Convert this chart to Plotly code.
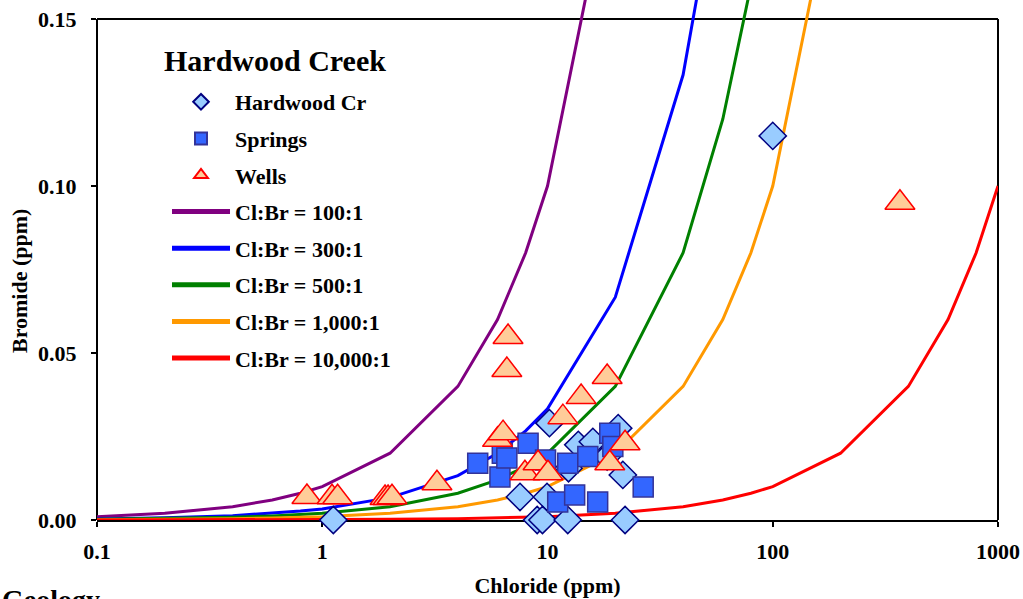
import plotly.graph_objects as go

# ---------------- data ----------------
# Hardwood Creek samples (Cl ppm, Br ppm)
hc_cl = [100, 1.12, 10.2, 13.7, 15.9, 20.6, 21.6, 7.55, 9.95, 12.4, 18.4, 9.0, 9.5, 12.3, 22.1]
hc_br = [0.115, 0.0, 0.029, 0.0225, 0.0234, 0.0275, 0.0135, 0.0069, 0.0069, 0.0155, 0.019, 0.0, 0.0, 0.0, 0.0]

# Springs
sp_cl = [4.9, 6.15, 6.3, 6.6, 8.2, 9.8, 12.3, 15.1, 18.9, 19.5, 11.1, 13.2, 16.7, 26.6]
sp_br = [0.017, 0.0129, 0.020, 0.0186, 0.023, 0.018, 0.017, 0.019, 0.026, 0.022, 0.0054, 0.0075, 0.0054, 0.0099]

# Wells
wl_cl = [0.855, 1.105, 1.17, 1.9, 1.96, 2.04, 3.23, 6.0, 6.35, 6.68, 6.6, 7.94, 9.08, 10.05, 11.7, 14.1, 18.4, 18.9, 22.1, 367]
wl_br = [0.0069, 0.0068, 0.0068, 0.0066, 0.0066, 0.0068, 0.011, 0.024, 0.026, 0.0548, 0.0449, 0.014, 0.017, 0.014, 0.0308, 0.0368, 0.0428, 0.017, 0.023, 0.095]

# Cl:Br reference lines
cl_grid = [0.1, 0.2, 0.4, 0.6, 0.8, 1, 2, 4, 6, 8, 10, 20, 40, 60, 80, 100, 200, 400, 600, 800, 1000]
br_100 = [0.001, 0.002, 0.004, 0.006, 0.008, 0.01, 0.02, 0.04, 0.06, 0.08, 0.1, 0.2]
br_300 = [0.00033, 0.00067, 0.0013, 0.002, 0.0027, 0.0033, 0.0067, 0.0133, 0.02, 0.0267, 0.0333, 0.0667, 0.1333, 0.2]
br_500 = [0.0002, 0.0004, 0.0008, 0.0012, 0.0016, 0.002, 0.004, 0.008, 0.012, 0.016, 0.02, 0.04, 0.08, 0.12, 0.16]
br_1000 = [0.0001, 0.0002, 0.0004, 0.0006, 0.0008, 0.001, 0.002, 0.004, 0.006, 0.008, 0.01, 0.02, 0.04, 0.06, 0.08, 0.1, 0.2]
br_10000 = [0.00001, 0.00002, 0.00004, 0.00006, 0.00008, 0.0001, 0.0002, 0.0004, 0.0006, 0.0008, 0.001,
            0.002, 0.004, 0.006, 0.008, 0.01, 0.02, 0.04, 0.06, 0.08, 0.1]

line_names = ["Cl:Br = 100:1", "Cl:Br = 300:1", "Cl:Br = 500:1", "Cl:Br = 1,000:1", "Cl:Br = 10,000:1"]
line_vals = [br_100, br_300, br_500, br_1000, br_10000]
line_colors = ["#800080", "#0000FF", "#008000", "#FF9900", "#FF0000"]

x_ticks = [0.1, 1, 10, 100, 1000]
x_ticktext = ["0.1", "1", "10", "100", "1000"]
y_ticks = [0.0, 0.05, 0.10, 0.15]
y_ticktext = ["0.00", "0.05", "0.10", "0.15"]

# ---------------- figure ----------------
FONT = "Liberation Serif"
fig = go.Figure()

for i, (nm, vals, col) in enumerate(zip(line_names, line_vals, line_colors)):
    fig.add_trace(go.Scatter(
        x=cl_grid[:len(vals)], y=vals, mode="lines", name=nm,
        line=dict(color=col, width=3), legendrank=4 + i, legendgroup=nm))

fig.add_trace(go.Scatter(
    x=hc_cl, y=hc_br, mode="markers", name="Hardwood Cr", cliponaxis=False,
    marker=dict(symbol="diamond", size=21, color="#99CCFF", line=dict(color="#000080", width=1.5)),
    legendrank=1, legendgroup="hc"))
fig.add_trace(go.Scatter(
    x=sp_cl, y=sp_br, mode="markers", name="Springs", cliponaxis=False,
    marker=dict(symbol="square", size=20, color="#3366FF", line=dict(color="#333399", width=1.5)),
    legendrank=2, legendgroup="sp"))
fig.add_trace(go.Scatter(
    x=wl_cl, y=wl_br, mode="markers", name="Wells", cliponaxis=False,
    marker=dict(symbol="triangle-up", size=26, color="#FFCC99", line=dict(color="#FF0000", width=1.5)),
    legendrank=3, legendgroup="wl"))

YTOP = 0.15 * 520 / 501

# frame lines (top, right, left) at the 0.15 level
frame = dict(color="black", width=2)
fig.add_shape(type="line", xref="paper", yref="y", x0=0, x1=1, y0=0.15, y1=0.15, line=frame, layer="below")
fig.add_shape(type="line", xref="paper", yref="y", x0=1, x1=1, y0=0, y1=0.15, line=frame, layer="below")
fig.add_shape(type="line", xref="paper", yref="y", x0=0, x1=0, y0=0, y1=0.15, line=frame, layer="below")

# legend heading
fig.add_annotation(text="Hardwood Creek", xref="paper", yref="paper",
                   x=(162 - 97) / 901, y=1 - 60 / 520, xanchor="left", yanchor="middle", showarrow=False,
                   font=dict(family=FONT, size=30, color="black", weight="bold"))

# y axis title
fig.add_annotation(text="Bromide (ppm)", xref="paper", yref="paper", textangle=-90,
                   x=(19 - 97) / 901, y=1 - 281 / 520, xanchor="center", yanchor="middle", showarrow=False,
                   font=dict(family=FONT, size=22, color="black", weight="bold"))

fig.add_annotation(text="Geology", xref="paper", yref="paper", x=-97 / 901, y=-(582 - 520) / 520,
                   xanchor="left", yanchor="top", showarrow=False,
                   font=dict(family=FONT, size=28, color="black", weight="bold"))

fig.update_layout(
    width=1023, height=599,
    margin=dict(l=97, r=25, t=0, b=79),
    paper_bgcolor="white", plot_bgcolor="white",
    font=dict(family=FONT, color="black", weight="bold"),
    showlegend=True,
    legend=dict(
        x=(167 - 97) / 901, y=1 - 81 / 520, xanchor="left", yanchor="top",
        bgcolor="rgba(0,0,0,0)", borderwidth=0,
        font=dict(family=FONT, size=22, color="black", weight="bold"),
        itemsizing="constant", itemwidth=58, tracegroupgap=5,
    ),
    xaxis=dict(
        type="log", range=[-1, 3], tickvals=x_ticks, ticktext=x_ticktext,
        showgrid=False, zeroline=False, showline=True, linecolor="black", linewidth=2,
        ticks="outside", ticklen=5, tickwidth=1.5, tickcolor="black", layer="below traces",
        tickfont=dict(family=FONT, size=22, color="black", weight="bold"), ticklabelstandoff=6,
        title=dict(text="Chloride (ppm)", font=dict(family=FONT, size=22, color="black", weight="bold"),
                   standoff=14),
    ),
    yaxis=dict(
        range=[0, YTOP], tickvals=y_ticks, ticktext=y_ticktext,
        showgrid=False, zeroline=False, showline=False,
        ticks="outside", ticklen=5, tickwidth=1.5, tickcolor="black",
        tickfont=dict(family=FONT, size=22, color="black", weight="bold"), ticklabelstandoff=10,
    ),
)

fig.write_html("out.html", config={"displayModeBar": False},
               post_script="document.body.style.margin='0';")
